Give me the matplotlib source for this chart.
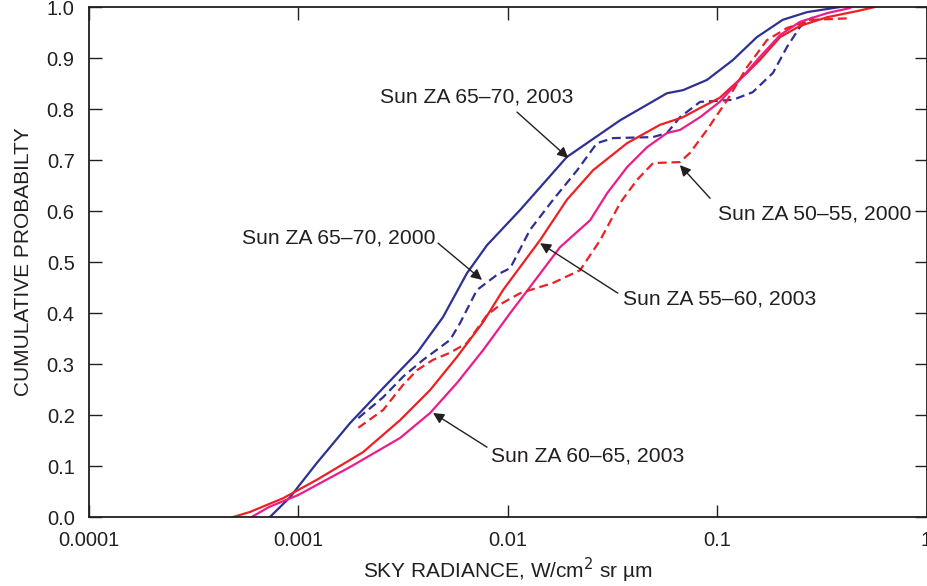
import numpy as np
import matplotlib.pyplot as plt

plt.rcParams['font.family'] = ['Liberation Sans', 'DejaVu Sans']

# ---- data (radiance W/cm2 sr um, cumulative probability) ----
za6570_2003_x = [0.000734, 0.000917, 0.001, 0.00123, 0.00177, 0.00255, 0.0037, 0.00492,
                 0.0064, 0.00798, 0.01148, 0.0192, 0.0345, 0.0577, 0.0688, 0.0895,
                 0.119, 0.155, 0.206, 0.269, 0.386]
za6570_2003_y = [0.0, 0.039, 0.059, 0.106, 0.184, 0.253, 0.322, 0.392,
                 0.478, 0.533, 0.602, 0.706, 0.778, 0.831, 0.837, 0.857,
                 0.896, 0.941, 0.975, 0.990, 1.0]

za6570_2000_x = [0.00194, 0.00255, 0.00317, 0.00395, 0.00531, 0.00593, 0.00714, 0.00891,
                 0.0103, 0.0128, 0.0165, 0.0215, 0.0267, 0.0319, 0.0495, 0.0577,
                 0.0666, 0.083, 0.119, 0.148, 0.185, 0.216, 0.249, 0.287]
za6570_2000_y = [0.194, 0.235, 0.275, 0.308, 0.347, 0.380, 0.445, 0.475,
                 0.488, 0.563, 0.622, 0.680, 0.733, 0.743, 0.745, 0.753,
                 0.784, 0.814, 0.818, 0.833, 0.871, 0.922, 0.961, 0.980]

za5560_2003_x = [0.00049, 0.00059, 0.00085, 0.00123, 0.00204, 0.00307, 0.00427, 0.00574,
                 0.00764, 0.00952, 0.0106, 0.0143, 0.0192, 0.0256, 0.0372, 0.0534,
                 0.0688, 0.083, 0.103, 0.139, 0.160, 0.200, 0.249, 0.335, 0.466, 0.567]
za5560_2003_y = [0.0, 0.010, 0.037, 0.073, 0.127, 0.190, 0.249, 0.314,
                 0.382, 0.445, 0.471, 0.543, 0.622, 0.680, 0.733, 0.769,
                 0.784, 0.802, 0.822, 0.871, 0.896, 0.941, 0.963, 0.980, 0.992, 1.0]

za6065_2003_x = [0.0006, 0.00073, 0.001, 0.00177, 0.00307, 0.00427, 0.00574, 0.00764,
                 0.0103, 0.0128, 0.0178, 0.0248, 0.0299, 0.0372, 0.0463, 0.0577,
                 0.0666, 0.083, 0.103, 0.139, 0.160, 0.200, 0.249, 0.335, 0.431]
za6065_2003_y = [0.0, 0.020, 0.043, 0.098, 0.155, 0.204, 0.263, 0.327,
                 0.400, 0.451, 0.529, 0.582, 0.635, 0.686, 0.725, 0.753,
                 0.759, 0.784, 0.814, 0.873, 0.902, 0.945, 0.971, 0.988, 0.998]

za5055_2000_x = [0.00194, 0.00255, 0.00317, 0.0037, 0.0044, 0.00531, 0.0064, 0.00798,
                 0.0095, 0.0115, 0.0165, 0.0222, 0.0277, 0.0345, 0.0415, 0.0495,
                 0.0666, 0.0743, 0.0895, 0.112, 0.139, 0.173, 0.216, 0.287, 0.431]
za5055_2000_y = [0.175, 0.210, 0.259, 0.288, 0.308, 0.322, 0.341, 0.396,
                 0.420, 0.439, 0.459, 0.484, 0.543, 0.616, 0.661, 0.694,
                 0.696, 0.714, 0.759, 0.818, 0.882, 0.935, 0.959, 0.975, 0.978]

# labels: (text, text anchor x, y, arrow tail x, y, arrow head x, y)
labels = [
    ('Sun ZA 65\u201370, 2003', 0.00246, 0.812, 0.0111, 0.794, 0.0195, 0.704),
    ('Sun ZA 65\u201370, 2000', 0.00054, 0.537, 0.00466, 0.537, 0.00755, 0.465),
    ('Sun ZA 50\u201355, 2000', 0.101, 0.584, 0.0927, 0.625, 0.0665, 0.690),
    ('Sun ZA 55\u201360, 2003', 0.0356, 0.416, 0.0336, 0.439, 0.0143, 0.537),
    ('Sun ZA 60\u201365, 2003', 0.00834, 0.108, 0.00798, 0.137, 0.00441, 0.204),
]

navy = '#2e3192'
red = '#ed2024'
magenta = '#ec1c8c'
ink = '#231f20'

fig = plt.figure(figsize=(9.28, 5.86), dpi=100)
ax = fig.add_axes([0.0954, 0.1177, 0.9030, 0.8703])

ax.plot(za6570_2003_x, za6570_2003_y, color=navy, lw=1.6)
ax.plot(za6570_2000_x, za6570_2000_y, color=navy, lw=1.6, ls=(0, (4, 2.2)))
ax.plot(za5560_2003_x, za5560_2003_y, color=red, lw=1.6)
ax.plot(za6065_2003_x, za6065_2003_y, color=magenta, lw=1.6)
ax.plot(za5055_2000_x, za5055_2000_y, color=red, lw=1.6, ls=(0, (4, 2.2)))

ax.set_xscale('log')
ax.set_xlim(0.0001, 1)
ax.set_ylim(0, 1.0)
ax.set_xticks([0.0001, 0.001, 0.01, 0.1, 1])
ax.set_xticklabels(['0.0001', '0.001', '0.01', '0.1', '1'])
ax.minorticks_off()
ax.set_yticks(np.arange(0, 1.01, 0.1))
ax.set_yticklabels([f'{v:.1f}' for v in np.arange(0, 1.01, 0.1)])
ax.tick_params(direction='in', length=9, width=1, labelsize=14.5, top=True, right=True,
               colors=ink, pad=10)
for sp in ax.spines.values():
    sp.set_linewidth(1.3)
    sp.set_color(ink)

ax.set_xlabel('SKY RADIANCE, W/cm$^2$ sr \u00b5m', fontsize=15, color=ink, labelpad=4)
ax.set_ylabel('CUMULATIVE PROBABILTY', fontsize=15, color=ink, labelpad=10)

arrow = dict(arrowstyle='-|>', color=ink, lw=1.0, mutation_scale=16, shrinkA=0, shrinkB=0)
for txt, tx, ty, ax0, ay0, hx, hy in labels:
    ax.text(tx, ty, txt, fontsize=15.2, color=ink, ha='left', va='baseline')
    ax.annotate('', xy=(hx, hy), xytext=(ax0, ay0), arrowprops=arrow)

fig.savefig('out.png', dpi=100)
